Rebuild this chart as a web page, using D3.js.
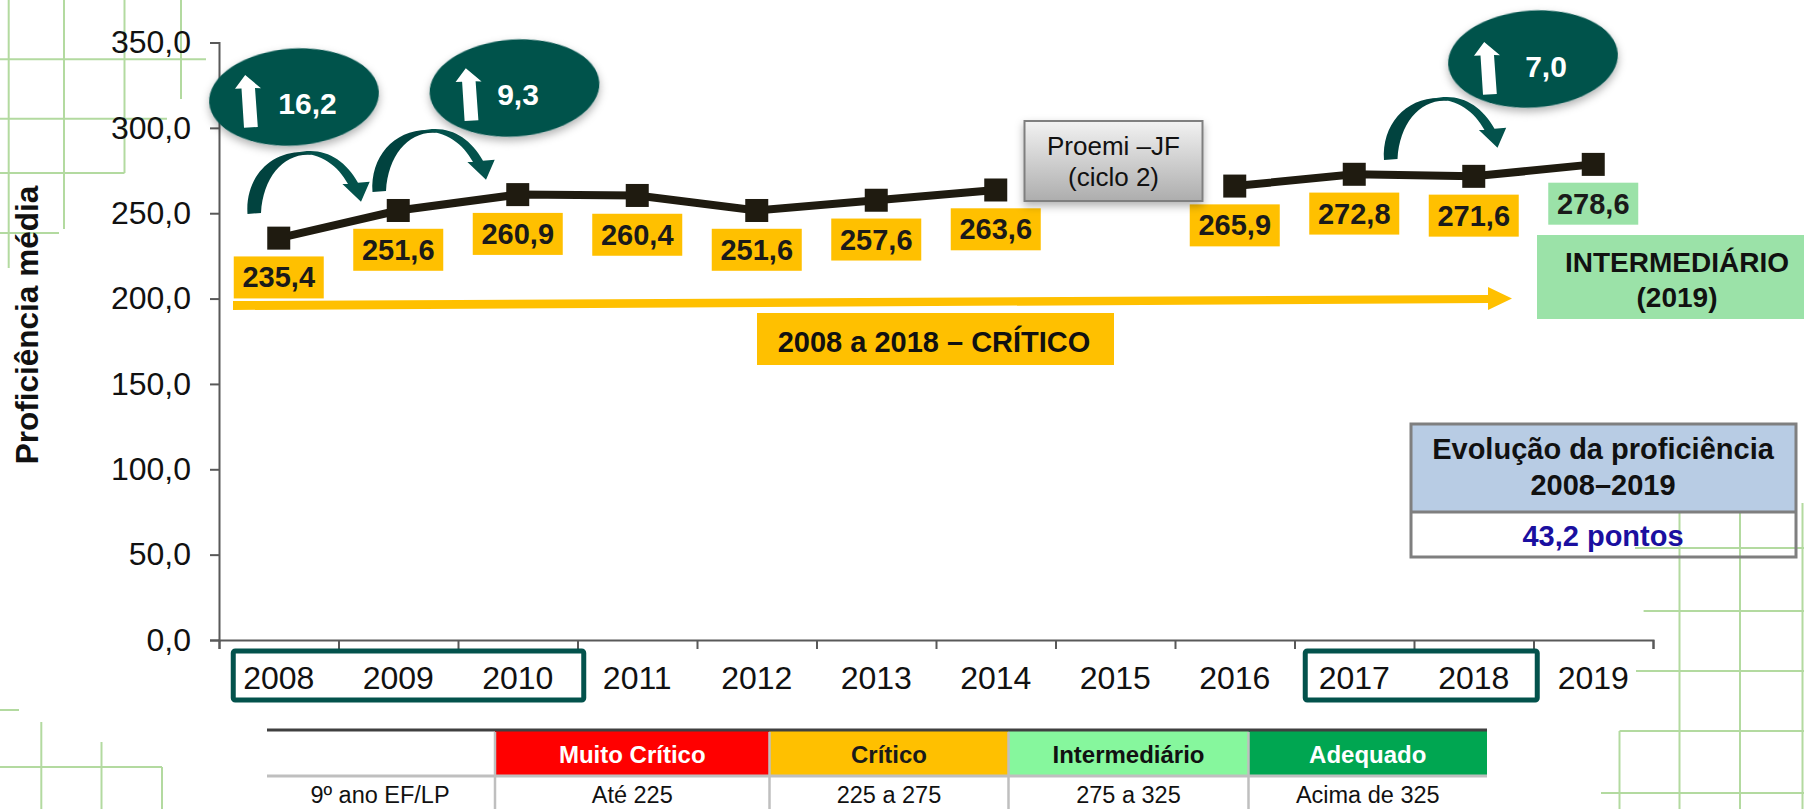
<!DOCTYPE html>
<html><head><meta charset="utf-8">
<style>html,body{margin:0;padding:0;background:#fff;overflow:hidden}svg{display:block}text{font-family:"Liberation Sans",Arial,sans-serif}</style>
<script src="https://cdn.jsdelivr.net/npm/d3@7"></script></head><body>
<svg id="c" width="1804" height="809"></svg>
<script>
const years=[2008,2009,2010,2011,2012,2013,2014,2015,2016,2017,2018,2019];
const values=[235.4,251.6,260.9,260.4,251.6,257.6,263.6,null,265.9,272.8,271.6,278.6];
const yTicks=[0,50,100,150,200,250,300,350];
const levelNames=["Muito Crítico","Crítico","Intermediário","Adequado"];
const levelRanges=["Até 225","225 a 275","275 a 325","Acima de 325"];
const levelFills=["#FF0000","#FFC000","#86F79D","#00A651"];
const levelText=["#fff","#1a1a1a","#111","#fff"];
const gains=["16,2","9,3","7,0"];

const svg=d3.select("#c");
const fmt=v=>v.toFixed(1).replace(".",",");
const x=d3.scaleBand().domain(years).range([219,1653]);
const xEdge=d3.scaleLinear().domain([0,years.length]).range([219,1653]);
const y=d3.scaleLinear().domain([0,350]).range([640,42.5]);
const TEAL="#03524C",AMBER="#FFC000",GRN="#B3DAA0";

const defs=svg.append("defs");
const f=defs.append("filter").attr("id","sh").attr("x","-20%").attr("y","-20%").attr("width","140%").attr("height","150%");
f.append("feDropShadow").attr("dx",0).attr("dy",4).attr("stdDeviation",4).attr("flood-color","#000").attr("flood-opacity",.3);
const g=defs.append("linearGradient").attr("id","gb").attr("x1",0).attr("x2",0).attr("y1",0).attr("y2",1);
g.append("stop").attr("offset",0).attr("stop-color","#F2F2F2");
g.append("stop").attr("offset",1).attr("stop-color","#ADADAD");

// background grid decoration
const deco=[[8.7,0,8.7,268],[64,0,64,229],[124.5,0,124.5,173],[181,0,181,99],[0,59.3,206,59.3],[0,118.7,167,118.7],[0,173,124.5,173],[0,233,59,233],
[0,710,19,710],[41.3,722,41.3,809],[101.5,742,101.5,809],[162,767,162,809],[0,767,162,767],
[1679.5,513,1679.5,809],[1740,513,1740,809],[1802.5,503,1802.5,809],[1619.5,731,1619.5,809],[1635,548,1804,548],[1643.6,611,1804,611],[1636,671,1804,671],[1619.5,731,1804,731],[1601,793,1804,793]];
svg.append("g").selectAll("line").data(deco).join("line")
 .attr("x1",d=>d[0]).attr("y1",d=>d[1]).attr("x2",d=>d[2]).attr("y2",d=>d[3]).attr("stroke",GRN).attr("stroke-width",2);

// axes
const ya=svg.append("g").attr("transform","translate(219,0)")
 .call(d3.axisLeft(y).tickValues(yTicks).tickSize(9).tickPadding(19).tickFormat(fmt));
const xa=svg.append("g").attr("transform","translate(0,640)")
 .call(d3.axisBottom(xEdge).tickValues(d3.range(years.length+1)).tickSize(9).tickFormat(""));
const xl=svg.append("g").attr("transform","translate(0,640)")
 .call(d3.axisBottom(x).tickSize(0).tickPadding(26));
xl.select(".domain").remove();
[ya,xa].forEach(a=>{a.selectAll(".domain").attr("stroke","#595959").attr("stroke-width",2);a.selectAll(".tick line").attr("stroke","#595959").attr("stroke-width",2);});
ya.selectAll("text").attr("font-size",32).attr("fill","#111").style("font-family",'"Liberation Sans"');
xl.selectAll("text").attr("font-size",32).attr("fill","#111").style("font-family",'"Liberation Sans"');

svg.append("text").attr("transform","translate(38,325) rotate(-90)").attr("text-anchor","middle")
 .attr("font-size",31.5).attr("font-weight",700).attr("fill","#111").text("Proficiência média");

// year highlight frames
const frame=(a,b,padL,padR)=>svg.append("rect").attr("x",x(a)+x.bandwidth()/2-padL).attr("y",651)
 .attr("width",x(b)-x(a)+padL+padR).attr("height",49).attr("rx",2)
 .attr("fill","none").attr("stroke",TEAL).attr("stroke-width",5);
frame(2008,2010,45.5,66);frame(2017,2018,49,63.5);

// yellow trend arrow
svg.append("path").attr("fill",AMBER)
 .attr("d","M233,301L1488,295L1488,287L1512,298.5L1488,310L1488,303L233,310Z");
svg.append("rect").attr("x",757).attr("y",313).attr("width",357).attr("height",52).attr("fill",AMBER);
svg.append("text").attr("x",934).attr("y",352).attr("text-anchor","middle").attr("font-size",29).attr("font-weight",700).attr("fill","#111").text("2008 a 2018 – CRÍTICO");

// series
const pts=years.map((yr,i)=>({yr,v:values[i]}));
const cx=d=>x(d.yr)+x.bandwidth()/2;
const line=d3.line().defined(d=>d.v!==null).x(cx).y(d=>y(d.v));
svg.append("path").attr("d",line(pts)).attr("fill","none").attr("stroke","#1F1B10").attr("stroke-width",8);
const real=pts.filter(d=>d.v!==null);
svg.append("g").selectAll("rect").data(real).join("rect")
 .attr("x",d=>cx(d)-11.5).attr("y",d=>y(d.v)-11.5).attr("width",23).attr("height",23).attr("fill","#1F1B10");
const lab=svg.append("g").selectAll("g").data(real).join("g").attr("transform",d=>`translate(${cx(d)},${y(d.v)+39.3})`);
lab.append("rect").attr("x",-45).attr("y",-21).attr("width",90).attr("height",42).attr("fill",d=>d.yr===2019?"#9BE2A8":AMBER);
lab.append("text").attr("text-anchor","middle").attr("y",10).attr("font-size",29).attr("font-weight",700).attr("fill","#1a1a1a").text(d=>fmt(d.v));

// Intermediário box
svg.append("rect").attr("x",1537).attr("y",235).attr("width",267).attr("height",84).attr("fill","#9BE2A8");
svg.append("text").attr("x",1677).attr("y",272).attr("text-anchor","middle").attr("font-size",28).attr("font-weight",700).attr("fill","#111").text("INTERMEDIÁRIO");
svg.append("text").attr("x",1677).attr("y",307).attr("text-anchor","middle").attr("font-size",28).attr("font-weight",700).attr("fill","#111").text("(2019)");

// curved arrows
const curve=(dx,dy)=>{
 const a=svg.append("g").attr("transform",`translate(${dx},${dy})`);
 a.append("path").attr("fill","#01433F").attr("d","M247.5,214C245,178 270,150 306,152L312,155C285,152 263,176 261,213Z");
 a.append("path").attr("fill",TEAL).attr("d","M296,153C322,146 344,158 358,182.7L369.7,181.7L361,201.7L342.4,184L348,184C338,166 322,153 296,153Z");
};
curve(0,0);curve(125,-22);curve(1136.5,-54);

// ellipses
const ell=[{cx:294,cy:97,ax:0,ay:0,tx:307.5,ty:114},{cx:514.5,cy:88,ax:220.6,ay:-6.7,tx:518,ty:105},{cx:1533,cy:59,ax:1239,ay:-33,tx:1546,ty:77}];
ell.forEach((e,i)=>{
 svg.append("ellipse").attr("cx",e.cx).attr("cy",e.cy).attr("rx",85).attr("ry",48.5)
  .attr("transform",`rotate(-4 ${e.cx} ${e.cy})`).attr("fill",TEAL).attr("filter","url(#sh)");
 svg.append("path").attr("fill","#fff").attr("transform",`translate(${e.ax},${e.ay})`)
  .attr("d","M245.2,75L261,88.3L255,88L257.8,127L244,127.7L241.5,88.5L235,88.8Z");
 svg.append("text").attr("x",e.tx).attr("y",e.ty).attr("text-anchor","middle").attr("font-size",30).attr("font-weight",700).attr("fill","#fff").text(gains[i]);
});

// Proemi box
svg.append("rect").attr("x",1024.5).attr("y",121).attr("width",178).attr("height",80).attr("fill","url(#gb)").attr("stroke","#7F7F7F").attr("stroke-width",2).attr("filter","url(#sh)");
svg.append("text").attr("x",1113.5).attr("y",155).attr("text-anchor","middle").attr("font-size",26).attr("fill","#111").text("Proemi –JF");
svg.append("text").attr("x",1113.5).attr("y",186).attr("text-anchor","middle").attr("font-size",26).attr("fill","#111").text("(ciclo 2)");

// Evolução table
svg.append("rect").attr("x",1411).attr("y",424).attr("width",385).attr("height",88).attr("fill","#B8CCE4");
svg.append("rect").attr("x",1411).attr("y",424).attr("width",385).attr("height",133).attr("fill","none").attr("stroke","#7F7F7F").attr("stroke-width",3);
svg.append("line").attr("x1",1411).attr("x2",1796).attr("y1",512).attr("y2",512).attr("stroke","#7F7F7F").attr("stroke-width",3);
svg.append("text").attr("x",1603).attr("y",459).attr("text-anchor","middle").attr("font-size",29).attr("font-weight",700).attr("fill","#111").text("Evolução da proficiência");
svg.append("text").attr("x",1603).attr("y",495).attr("text-anchor","middle").attr("font-size",29).attr("font-weight",700).attr("fill","#111").text("2008–2019");
svg.append("text").attr("x",1603).attr("y",546).attr("text-anchor","middle").attr("font-size",29).attr("font-weight",700).attr("fill","#1A0FA0").text("43,2 pontos");

// legend table
const colEdges=[495,769.5,1008.5,1248.5,1487];
svg.append("g").selectAll("rect").data(levelNames).join("rect")
 .attr("x",(d,i)=>colEdges[i]).attr("y",731).attr("width",(d,i)=>colEdges[i+1]-colEdges[i]).attr("height",44).attr("fill",(d,i)=>levelFills[i]);
svg.append("line").attr("x1",267).attr("x2",1487).attr("y1",730).attr("y2",730).attr("stroke","#404040").attr("stroke-width",3);
svg.append("line").attr("x1",267).attr("x2",1487).attr("y1",776).attr("y2",776).attr("stroke","#BFBFBF").attr("stroke-width",3);
svg.append("g").selectAll("line").data(colEdges.slice(0,4)).join("line").attr("x1",d=>d).attr("x2",d=>d).attr("y1",732).attr("y2",809).attr("stroke","#BFBFBF").attr("stroke-width",2.5);
levelNames.forEach((n,i)=>{
 const c=(colEdges[i]+colEdges[i+1])/2;
 svg.append("text").attr("x",c).attr("y",763).attr("text-anchor","middle").attr("font-size",24).attr("font-weight",700).attr("fill",levelText[i]).text(n);
 svg.append("text").attr("x",c).attr("y",803).attr("text-anchor","middle").attr("font-size",23.5).attr("fill","#111").text(levelRanges[i]);
});
svg.append("text").attr("x",380).attr("y",803).attr("text-anchor","middle").attr("font-size",23.5).attr("fill","#111").text("9º ano EF/LP");
</script></body></html>
